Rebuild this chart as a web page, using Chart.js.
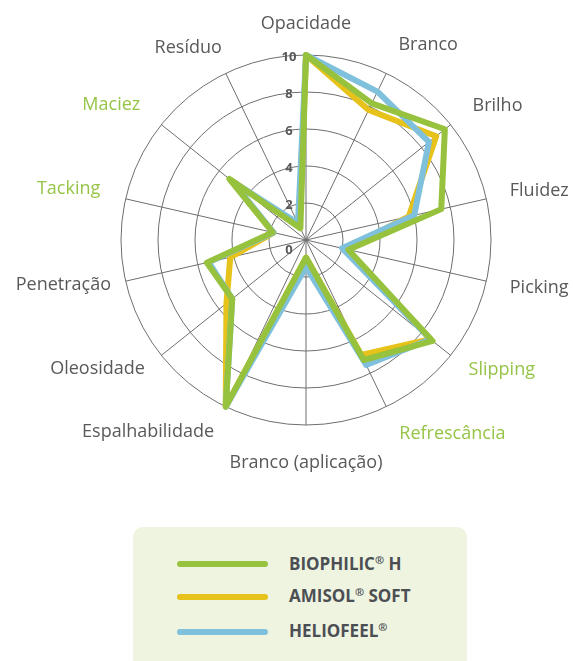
<!DOCTYPE html>
<html>
<head>
<meta charset="utf-8">
<script src="https://cdn.jsdelivr.net/npm/chart.js@4.4.1/dist/chart.umd.min.js"></script>
<style>
  html, body { margin: 0; padding: 0; background: #ffffff; }
  #wrap { position: relative; width: 573px; height: 661px; overflow: hidden; }
  #chartBox { position: absolute; left: 0; top: 0; width: 573px; height: 500px; }
  #legend { position: absolute; left: 133px; top: 527px; width: 334px; height: 150px;
            background: #eff4e1; border-radius: 10px;
            font-family: 'Open Sans', sans-serif; font-weight: 700; font-size: 17px; color: #4b4f54; }
  .sw { position: absolute; left: 44px; width: 91px; height: 6px; border-radius: 3px; }
  .tx { position: absolute; left: 156px; line-height: 17px; white-space: nowrap; }
  .tx sup { font-size: 11px; line-height: 0; vertical-align: 6px; }
</style>
</head>
<body>
<div id="wrap">
  <div id="chartBox"><canvas id="c"></canvas></div>
  <div id="legend"></div>
</div>
<script>
// ---- data ----
const categories = ['Opacidade', 'Branco', 'Brilho', 'Fluidez', 'Picking', 'Slipping', 'Refrescância',
  'Branco (aplicação)', 'Espalhabilidade', 'Oleosidade', 'Penetração', 'Tacking', 'Maciez', 'Resíduo'];
const seriesNames = ['BIOPHILIC® H', 'AMISOL® SOFT', 'HELIOFEEL®'];
const biophilicH = [10, 8.2, 9.6, 7.5, 2.35, 8.75, 7.2, 0.95, 10, 5.1, 5.5, 1.85, 5.3, 0.7];
const amisolSoft = [10, 7.8, 9.0, 5.7, 2.2, 8.6, 6.9, 0.95, 10, 5.5, 4.2, 1.8, 5.2, 0.8];
const heliofeel  = [10, 8.9, 8.5, 6.0, 2.0, 8.6, 7.5, 1.45, 10, 5.1, 5.4, 1.8, 5.1, 1.0];
const tickStep = 2;
const scaleMax = 10;
const greenLabels = ['Slipping', 'Refrescância', 'Tacking', 'Maciez'];

// ---- styles ----
const GREEN = '#97c23d', YELLOW = '#e6c21b', BLUE = '#7fc0dc';
const seriesColors = [GREEN, YELLOW, BLUE];
const LABEL_GRAY = '#595959', LABEL_GREEN = '#96c447';
// per-label padding / line height (placement of the category labels)
const labelPad = [20, 28, 28, 24, 24, 23, 30, 27, 27, 21, 15, 26, 27, 9];
const labelLH  = [22, 7, 3, 6, 3, 1, 1, 22, 1, 1, 1, 8, 5, 35];

// radial scale that keeps the centre/radius given by the chart area
class FixedRadialScale extends Chart.RadialLinearScale {
  setCenterPoint() { /* keep geometry from chart area */ }
}
FixedRadialScale.id = 'fixedRadial';
FixedRadialScale.defaults = Chart.RadialLinearScale.defaults;
Chart.register(FixedRadialScale);

const tickTextPlugin = {
  id: 'tickText',
  beforeDatasetsDraw(chart) {
    const s = chart.scales.r, ctx = chart.ctx;
    ctx.save();
    ctx.font = '700 13px "Open Sans"';
    ctx.fillStyle = '#595959';
    ctx.textAlign = 'center';
    ctx.textBaseline = 'middle';
    s.ticks.forEach(t => {
      const r = s.getDistanceFromCenterForValue(t.value);
      const y = t.value === 0 ? s.yCenter + 10 : s.yCenter - r + 2;
      ctx.fillText(t.label, s.xCenter - 17, y);
    });
    ctx.restore();
  }
};

const seriesData = [biophilicH, amisolSoft, heliofeel];
const drawOrder = [0, 2, 1];

new Chart(document.getElementById('c'), {
  type: 'radar',
  data: {
    labels: categories,
    datasets: seriesData.map((d, i) => ({
      label: seriesNames[i],
      data: d,
      borderColor: seriesColors[i],
      backgroundColor: 'transparent',
      borderWidth: 6,
      borderJoinStyle: 'round',
      pointRadius: 0,
      pointHoverRadius: 0,
      fill: false,
      order: drawOrder[i]
    }))
  },
  options: {
    responsive: true,
    maintainAspectRatio: false,
    animation: false,
    layout: { padding: { left: 121, top: 55, right: 82, bottom: 75 } },
    plugins: { legend: { display: false }, tooltip: { enabled: false } },
    elements: { line: { tension: 0 } },
    scales: {
      r: {
        type: 'fixedRadial',
        min: 0,
        max: scaleMax,
        startAngle: 0,
        ticks: { stepSize: tickStep, display: false },
        grid: { circular: true, color: '#6e6e6e', lineWidth: 1 },
        angleLines: { color: '#6e6e6e', lineWidth: 1 },
        pointLabels: {
          color: ctx => greenLabels.includes(ctx.label) ? LABEL_GREEN : LABEL_GRAY,
          font: ctx => ({ family: "'Open Sans'", size: 18, weight: '400', lineHeight: labelLH[ctx.index] + 'px' }),
          padding: ctx => labelPad[ctx.index]
        }
      }
    }
  },
  plugins: [tickTextPlugin]
});

// ---- legend (HTML) ----
const legend = document.getElementById('legend');
const swTop = [34, 67, 102];
const txTop = [28, 60, 95];
seriesNames.forEach((name, i) => {
  const sw = document.createElement('div');
  sw.className = 'sw';
  sw.style.top = swTop[i] + 'px';
  sw.style.background = seriesColors[i];
  legend.appendChild(sw);
  const tx = document.createElement('div');
  tx.className = 'tx';
  tx.style.top = txTop[i] + 'px';
  tx.innerHTML = name.replace('®', '<sup>®</sup>');
  legend.appendChild(tx);
});
</script>
</body>
</html>
